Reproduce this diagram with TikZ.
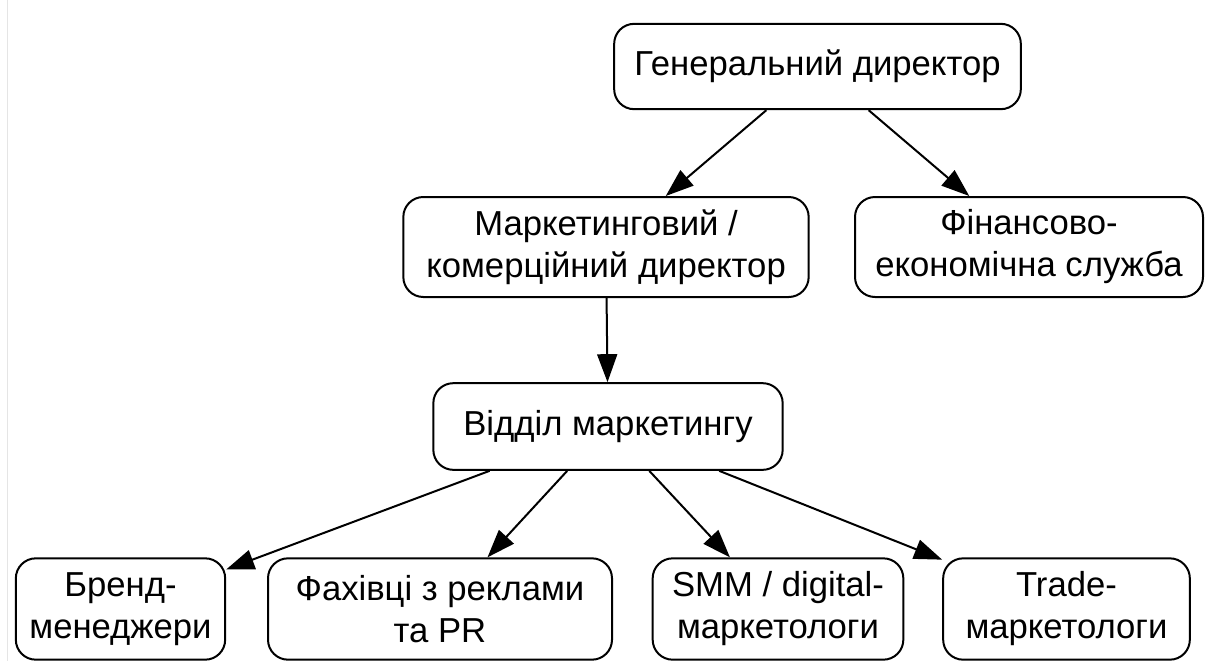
\documentclass[tikz,border=0pt]{standalone}
\usepackage{fontspec}
\setmainfont{Liberation Sans}
\usetikzlibrary{arrows.meta}
\tikzset{
    post/.style = {draw, line width=1.5pt, rounded corners=15pt, align=center,
                   inner sep=0pt, font=\fontsize{26}{31.5}\selectfont},
    link/.style = {line width=1.5pt, -{Triangle[length=21pt,width=15pt]}}
}
\begin{document}
\begin{tikzpicture}[x=0.75pt, y=-0.75pt]
        \useasboundingbox (0,0) rectangle (1211,661);
        \draw[gray!20, line width=0.75pt] (7.5,0) -- (7.5,661);
        \node[post, minimum width=305pt, minimum height=64pt] (gen) at (817.5,66.5) {Генеральний директор};
        \node[post, minimum width=304pt, minimum height=75pt] (mkt) at (606,247) {Маркетинговий /\\комерційний директор};
        \node[post, minimum width=261pt, minimum height=75pt] (fin) at (1029,247) {Фінансово-\\економічна служба};
        \node[post, minimum width=262pt, minimum height=65pt] (dept) at (608,426.5) {Відділ маркетингу};
        \node[post, minimum width=157pt, minimum height=76pt] (brand) at (120.5,609) {Бренд-\\менеджери};
        \node[post, minimum width=258pt, minimum height=76pt] (pr) at (440,609) {Фахівці з реклами\\та PR};
        \node[post, minimum width=188pt, minimum height=76pt] (smm) at (778,609) {SMM / digital-\\маркетологи};
        \node[post, minimum width=185pt, minimum height=76pt] (trade) at (1066.5,609) {Trade-\\маркетологи};
        \draw[link] (gen) -- (mkt);
        \draw[link] (gen) -- (fin);
        \draw[link] (mkt) -- (dept);
        \draw[link] (dept) -- (brand);
        \draw[link] (dept) -- (pr);
        \draw[link] (dept) -- (smm);
        \draw[link] (dept) -- (trade);
\end{tikzpicture}
\end{document}
